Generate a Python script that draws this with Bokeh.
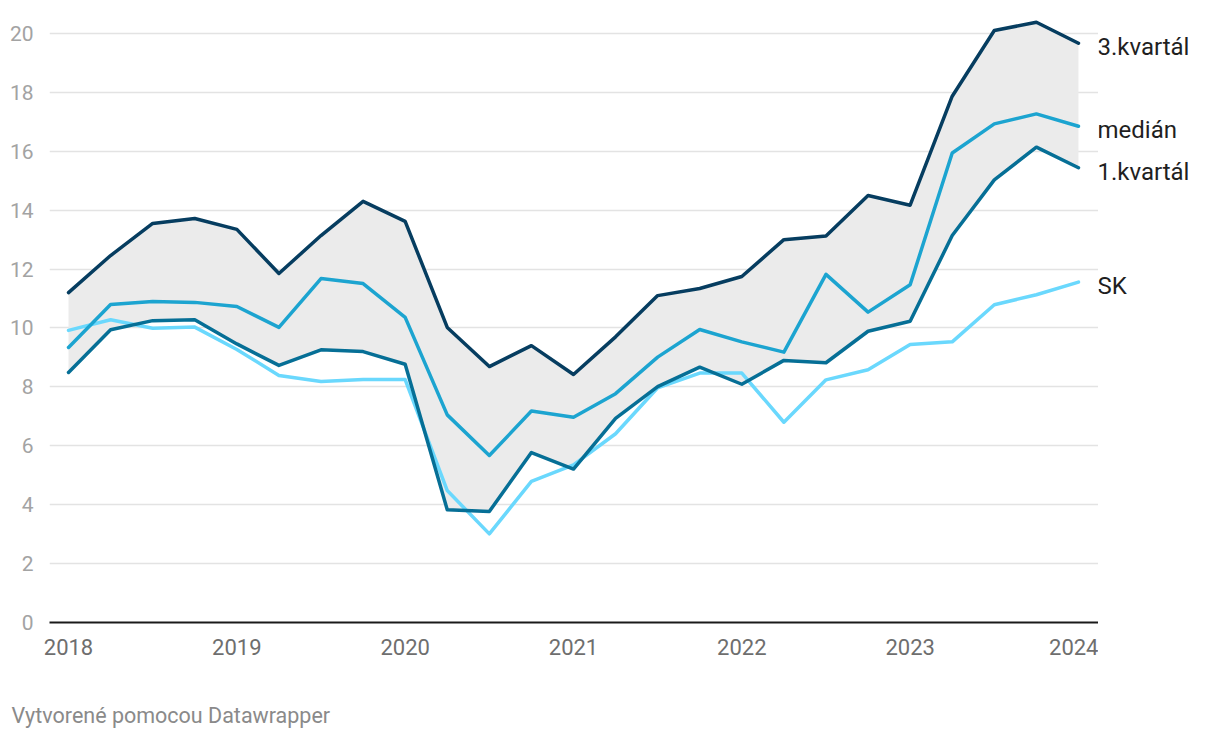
from bokeh.plotting import figure
from bokeh.models import Range1d, FixedTicker
from bokeh.layouts import row, column
from bokeh.core.properties import value
from bokeh.embed import file_html
from bokeh.resources import INLINE

# Quarterly data 2018 Q1 .. 2024 Q1
quarters = [2018.0, 2018.25, 2018.5, 2018.75,
            2019.0, 2019.25, 2019.5, 2019.75,
            2020.0, 2020.25, 2020.5, 2020.75,
            2021.0, 2021.25, 2021.5, 2021.75,
            2022.0, 2022.25, 2022.5, 2022.75,
            2023.0, 2023.25, 2023.5, 2023.75,
            2024.0]

q3 = [11.2, 12.46, 13.55, 13.72, 13.35, 11.85, 13.14, 14.3, 13.62, 10.02,
      8.69, 9.4, 8.42, 9.7, 11.1, 11.34, 11.75, 13.0, 13.12, 14.5,
      14.17, 17.87, 20.1, 20.38, 19.67]
median = [9.34, 10.8, 10.9, 10.87, 10.73, 10.02, 11.68, 11.51, 10.36, 7.05,
          5.67, 7.18, 6.97, 7.77, 9.01, 9.95, 9.53, 9.18, 11.82, 10.54,
          11.47, 15.94, 16.93, 17.27, 16.85]
q1 = [8.49, 9.94, 10.25, 10.28, 9.46, 8.73, 9.26, 9.2, 8.77, 3.83,
      3.77, 5.77, 5.21, 6.93, 8.01, 8.67, 8.09, 8.9, 8.82, 9.89,
      10.23, 13.14, 15.03, 16.14, 15.44]
sk = [9.92, 10.28, 9.99, 10.03, 9.27, 8.39, 8.18, 8.25, 8.25, 4.48,
      3.01, 4.79, 5.35, 6.41, 7.97, 8.47, 8.47, 6.8, 8.24, 8.58,
      9.44, 9.53, 10.79, 11.13, 11.56]

series_names = ["3.kvartál", "medián", "1.kvartál", "SK"]
year_ticks = [2018, 2019, 2020, 2021, 2022, 2023, 2024]
y_ticks = [0, 2, 4, 6, 8, 10, 12, 14, 16, 18, 20]
footer_text = "Vytvorené pomocou Datawrapper"

C_Q3 = "#063d60"
C_MED = "#1ca4d0"
C_Q1 = "#066f96"
C_SK = "#6ad8fd"
FONT = "Roboto"

TOP = 14
BOTTOM = 46
MAIN_H = 668

p = figure(width=1098, height=MAIN_H, output_backend="svg", toolbar_location=None,
           x_range=Range1d(2017.887, 2024.119), y_range=Range1d(0, 20.645),
           min_border_left=49, min_border_right=0, min_border_top=TOP,
           min_border_bottom=BOTTOM)
p.outline_line_color = None
p.background_fill_color = "white"
p.border_fill_color = "white"

# grid
p.xgrid.grid_line_color = None
p.ygrid.grid_line_color = "#e3e3e3"
p.ygrid.grid_line_width = 1.5
p.ygrid.ticker = FixedTicker(ticks=y_ticks)

# axes
p.yaxis.ticker = FixedTicker(ticks=y_ticks)
p.yaxis.axis_line_color = None
p.yaxis.major_tick_line_color = None
p.yaxis.minor_tick_line_color = None
p.yaxis.major_label_text_font = FONT
p.yaxis.major_label_text_font_size = "21px"
p.yaxis.major_label_text_color = "#a3a3a3"
p.yaxis.major_label_standoff = 10

p.xaxis.ticker = FixedTicker(ticks=year_ticks)
p.xaxis.axis_line_color = "#1a1a1a"
p.xaxis.axis_line_width = 2
p.xaxis.major_tick_line_color = None
p.xaxis.minor_tick_line_color = None
p.xaxis.major_label_text_font = FONT
p.xaxis.major_label_text_font_size = "22px"
p.xaxis.major_label_text_color = "#6e6e6e"
p.xaxis.major_label_standoff = 10

# band between quartiles
p.varea(x=quarters, y1=q1, y2=q3, fill_color="#ebebeb", fill_alpha=1.0)

# lines
for ys, col in [(sk, C_SK), (q1, C_Q1), (median, C_MED), (q3, C_Q3)]:
    p.line(quarters, ys, line_color=col, line_width=3.5, line_join="round", line_cap="round")

# end labels in a narrow side figure sharing the y scale
lab = figure(width=114, height=MAIN_H, output_backend="svg", toolbar_location=None,
             x_range=Range1d(0, 114), y_range=p.y_range,
             min_border_left=0, min_border_right=0, min_border_top=TOP,
             min_border_bottom=BOTTOM)
lab.axis.visible = False
lab.grid.visible = False
lab.outline_line_color = None
lab.text(x=[-1] * len(series_names),
         y=[q3[-1], median[-1], q1[-1], sk[-1]],
         text=series_names, y_offset=4,
         text_baseline="middle", text_align="left",
         text_font=value(FONT), text_font_size="24px", text_color="#1f1f1f")

# footer
foot = figure(width=1212, height=70, output_backend="svg", toolbar_location=None,
              x_range=Range1d(0, 1212), y_range=Range1d(0, 70),
              min_border_left=0, min_border_right=0, min_border_top=0,
              min_border_bottom=0)
foot.axis.visible = False
foot.grid.visible = False
foot.outline_line_color = None
foot.text(x=[11], y=[23], text=[footer_text], text_baseline="middle", text_align="left",
          text_font=value(FONT), text_font_size="21.5px", text_color="#8a8a8a")

layout = column(row(p, lab, spacing=0), foot, spacing=0)
open("out.html", "w").write(file_html(layout, INLINE))
